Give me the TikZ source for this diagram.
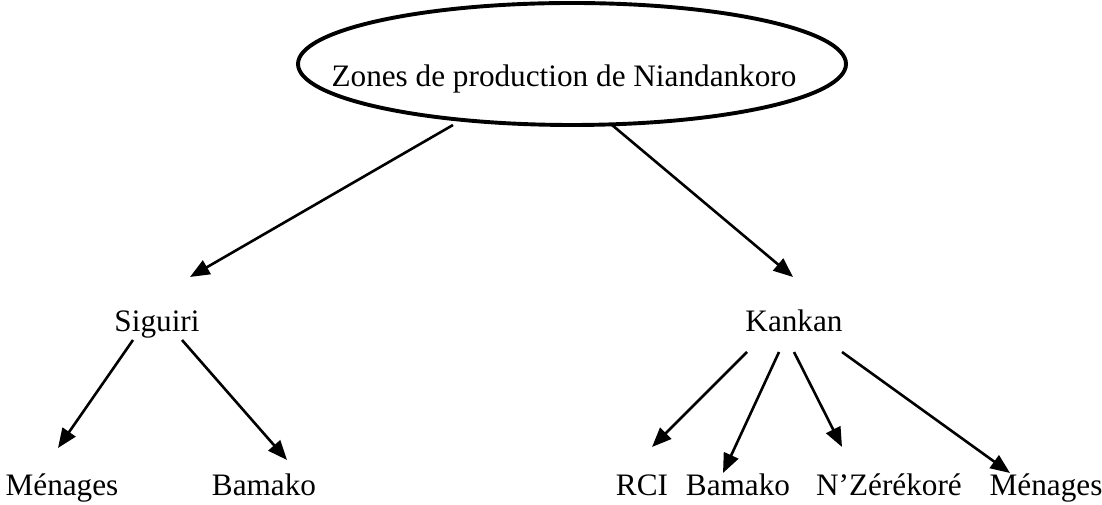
\documentclass[tikz,border=0pt]{standalone}
\usepackage{fontspec}
\setmainfont{Liberation Serif}
\usetikzlibrary{calc, arrows.meta, positioning}

\begin{document}
\begin{tikzpicture}[
        x=0.0135cm, y=-0.0135cm,
        lbl/.style = {anchor=base, inner sep=0pt, font=\fontsize{12}{14}\selectfont},
        oval/.style = {draw=black, line width=1.5pt},
        arrow/.style = {draw=black, -{Triangle[length=7.5pt, width=6pt]}, line width=1pt}
    ]
        \useasboundingbox (0,0) rectangle (1102,505);

        % Row 1: root
        \node (zones) [lbl] at (564,87) {Zones de production de Niandankoro};
        \draw [oval] ($(zones.base)+(8,-23)$) ellipse [x radius=274, y radius=61];

        % Row 2: the two zones
        \node (siguiri) [lbl] at (157,332) {Siguiri};
        \node (kankan) [lbl] at (794,332) {Kankan};

        % Row 3: destinations
        \node (menA) [lbl] at (62,495) {Ménages};
        \node (bamA) [lbl] at (264,495) {Bamako};
        \node (rci) [lbl] at (642,495) {RCI};
        \node (bamB) [lbl] at (738,495) {Bamako};
        \node (nzere) [lbl] at (889,495) {N’Zérékoré};
        \node (menB) [lbl] at (1046,495) {Ménages};

        % Arrows root -> zones
        \draw [arrow] ($(zones.base)+(-111,38)$) -- ($(siguiri.base)+(33,-55)$);
        \draw [arrow] ($(zones.base)+(48,38)$) -- ($(kankan.base)+(-1,-55)$);

        % Arrows Siguiri -> destinations
        \draw [arrow] ($(siguiri.base)+(-24,8)$) -- ($(menA.base)+(-4,-47)$);
        \draw [arrow] ($(siguiri.base)+(25,8)$) -- ($(bamA.base)+(23,-35)$);

        % Arrows Kankan -> destinations
        \draw [arrow] ($(kankan.base)+(-47,20)$) -- ($(rci.base)+(10,-48)$);
        \draw [arrow] ($(kankan.base)+(-15,20)$) -- ($(bamB.base)+(-15,-22)$);
        \draw [arrow] ($(kankan.base)+(0,20)$) -- ($(nzere.base)+(-47,-48)$);
        \draw [arrow] ($(kankan.base)+(48,20)$) -- ($(menB.base)+(-36,-22)$);

    \end{tikzpicture}
\end{document}
